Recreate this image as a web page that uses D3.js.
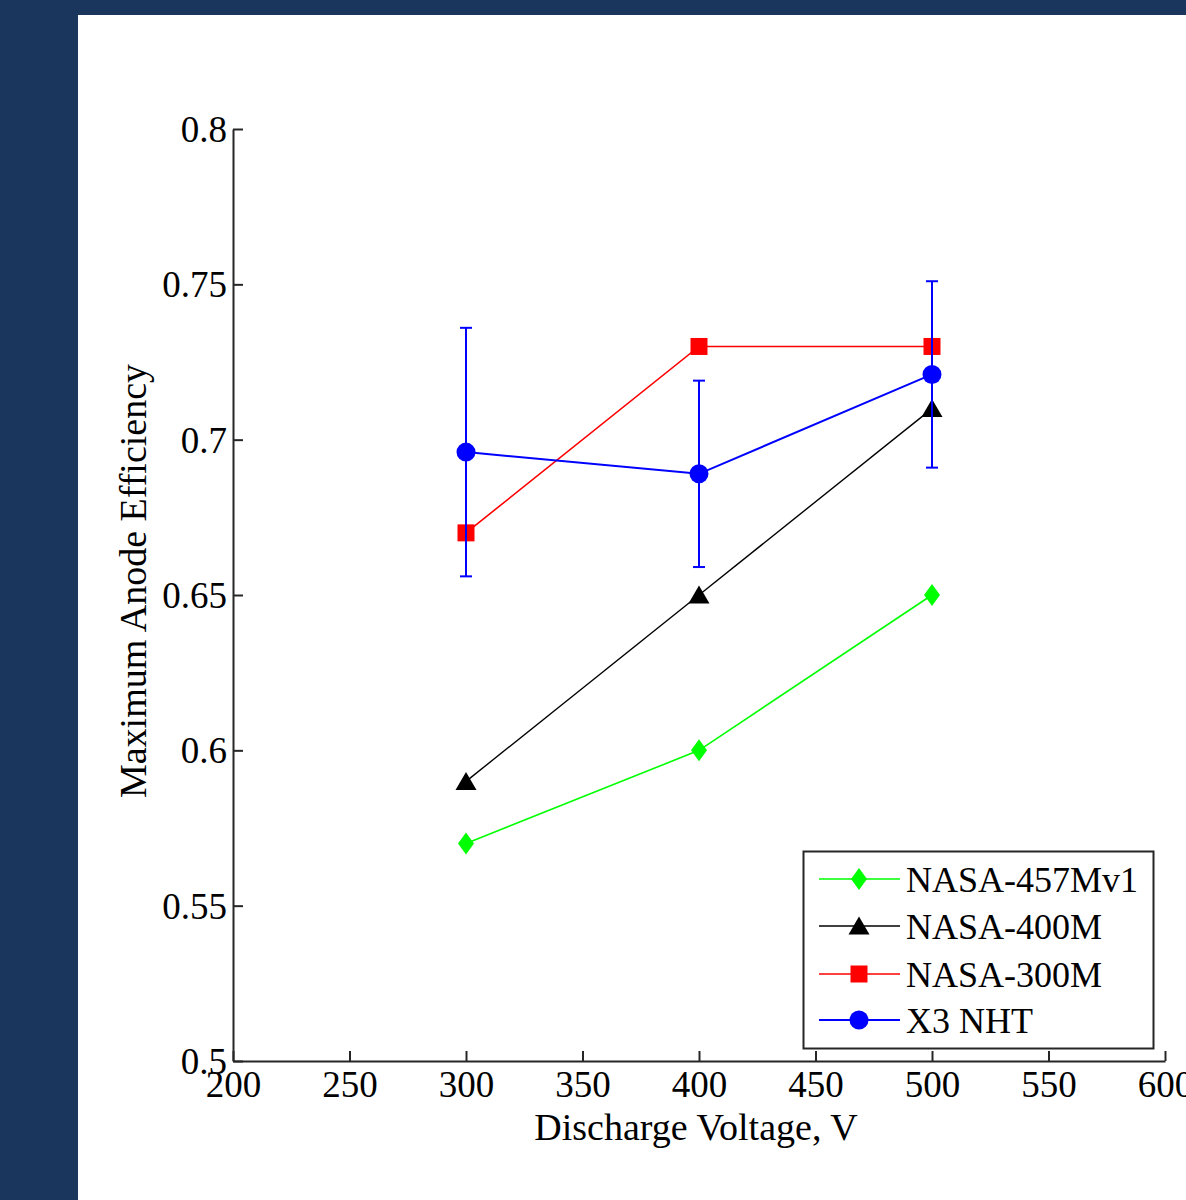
<!DOCTYPE html>
<html>
<head>
<meta charset="utf-8">
<script src="https://cdn.jsdelivr.net/npm/d3@7"></script>
<style>
  html, body { margin: 0; padding: 0; background: #1a365d; overflow: hidden; }
  svg { display: block; }
  text { font-family: "Liberation Serif", "Times New Roman", serif; fill: #000; }
</style>
</head>
<body>
<script>
// data
const voltages = [300, 400, 500];
const seriesNames = ['NASA-457Mv1', 'NASA-400M', 'NASA-300M', 'X3 NHT'];
const nasa457 = [0.57, 0.60, 0.65];
const nasa400 = [0.59, 0.65, 0.71];
const nasa300 = [0.67, 0.73, 0.73];
const x3 = [0.696, 0.689, 0.721];
const x3Err = [0.04, 0.03, 0.03];
const xTicks = [200, 250, 300, 350, 400, 450, 500, 550, 600];
const yTicks = [0.5, 0.55, 0.6, 0.65, 0.7, 0.75, 0.8];

const W = 1186, H = 1200;
const svg = d3.select('body').append('svg')
    .attr('width', W)
    .attr('height', H);

// white figure panel
svg.append('rect')
    .attr('x', 78).attr('y', 15)
    .attr('width', W - 78).attr('height', H - 15)
    .attr('fill', '#fff');

const plot = { left: 233, right: 1165, top: 129, bottom: 1061 };
const x = d3.scaleLinear().domain([200, 600]).range([plot.left, plot.right]);
const y = d3.scaleLinear().domain([0.5, 0.8]).range([plot.bottom, plot.top]);

const tickSize = 37, labelSize = 38, legendSize = 36;
const axisColor = '#262626';

// axes (left & bottom only, ticks pointing inward)
const xAxis = svg.append('g')
    .attr('transform', 'translate(0,' + plot.bottom + ')')
    .call(d3.axisBottom(x).tickValues(xTicks).tickSizeInner(-10).tickSizeOuter(0).tickPadding(10)
        .tickFormat(d3.format('d')));
const yAxis = svg.append('g')
    .attr('transform', 'translate(' + plot.left + ',0)')
    .call(d3.axisLeft(y).tickValues(yTicks).tickSizeInner(-10).tickSizeOuter(0).tickPadding(6)
        .tickFormat(d => String(d)));

[xAxis, yAxis].forEach(a => {
    a.select('.domain').attr('stroke', axisColor).attr('stroke-width', 2);
    a.selectAll('.tick line').attr('stroke', axisColor).attr('stroke-width', 2);
    a.selectAll('.tick text')
        .attr('font-family', '"Liberation Serif", serif')
        .attr('font-size', tickSize)
        .attr('fill', '#000');
});
yAxis.selectAll('.tick text').attr('dy', '0.34em');
xAxis.selectAll('.tick text').attr('dy', '0.7em');

// axis titles
svg.append('text')
    .attr('x', (plot.left + plot.right) / 2 - 3)
    .attr('y', 1140)
    .attr('text-anchor', 'middle')
    .attr('font-size', labelSize)
    .text('Discharge Voltage, V');

svg.append('text')
    .attr('transform', 'translate(146,' + 581 + ') rotate(-90)')
    .attr('text-anchor', 'middle')
    .attr('font-size', labelSize)
    .text('Maximum Anode Efficiency');

// marker shapes
const shapes = {
    diamond: 'M0,-11L8,0L0,11L-8,0Z',
    triangle: 'M0,-9.5L10.5,8.5L-10.5,8.5Z',
    square: 'M-8.5,-8.5H8.5V8.5H-8.5Z',
    circle: d3.symbol().type(d3.symbolCircle).size(Math.PI * 9.5 * 9.5)()
};

const series = [
    { name: seriesNames[0], values: nasa457, color: '#00ff00', shape: 'diamond', width: 1.6 },
    { name: seriesNames[1], values: nasa400, color: '#000000', shape: 'triangle', width: 1.4 },
    { name: seriesNames[2], values: nasa300, color: '#ff0000', shape: 'square', width: 1.6 },
    { name: seriesNames[3], values: x3, color: '#0000ff', shape: 'circle', width: 2, err: x3Err }
];

const line = d3.line()
    .x((d, i) => x(voltages[i]))
    .y(d => y(d));

const dataG = svg.append('g');
series.forEach(s => {
    const g = dataG.append('g');
    g.append('path')
        .attr('d', line(s.values))
        .attr('fill', 'none')
        .attr('stroke', s.color)
        .attr('stroke-width', s.width);

    if (s.err) {
        const eb = g.selectAll('.err').data(s.values).enter().append('g');
        eb.append('line')
            .attr('x1', (d, i) => x(voltages[i]))
            .attr('x2', (d, i) => x(voltages[i]))
            .attr('y1', (d, i) => y(d - s.err[i]))
            .attr('y2', (d, i) => y(d + s.err[i]))
            .attr('stroke', s.color).attr('stroke-width', 2);
        [-1, 1].forEach(sign => {
            eb.append('line')
                .attr('x1', (d, i) => x(voltages[i]) - 6)
                .attr('x2', (d, i) => x(voltages[i]) + 6)
                .attr('y1', (d, i) => y(d + sign * s.err[i]))
                .attr('y2', (d, i) => y(d + sign * s.err[i]))
                .attr('stroke', s.color).attr('stroke-width', 2);
        });
    }

    g.selectAll('.marker').data(s.values).enter().append('path')
        .attr('d', shapes[s.shape])
        .attr('transform', (d, i) => 'translate(' + x(voltages[i]) + ',' + y(d) + ')')
        .attr('fill', s.color);
});

// legend
const legend = svg.append('g');
legend.append('rect')
    .attr('x', 803.5).attr('y', 851.5)
    .attr('width', 350).attr('height', 197)
    .attr('fill', '#fff')
    .attr('stroke', axisColor)
    .attr('stroke-width', 2);

const rowY = [879, 926, 974, 1020];
series.forEach((s, i) => {
    const row = legend.append('g').attr('transform', 'translate(0,' + rowY[i] + ')');
    row.append('line')
        .attr('x1', 819).attr('x2', 900)
        .attr('stroke', s.color).attr('stroke-width', s.width);
    row.append('path')
        .attr('d', shapes[s.shape])
        .attr('transform', 'translate(859,0)')
        .attr('fill', s.color);
    row.append('text')
        .attr('x', 906)
        .attr('dy', '0.35em')
        .attr('font-size', legendSize)
        .text(s.name);
});
</script>
</body>
</html>
